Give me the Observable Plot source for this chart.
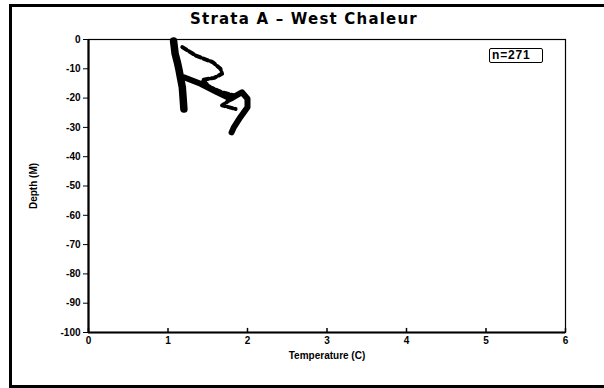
<!DOCTYPE html>
<html>
<head>
<meta charset="utf-8">
<script src="https://cdn.jsdelivr.net/npm/d3@7"></script>
<script src="https://cdn.jsdelivr.net/npm/@observablehq/plot@0.6"></script>
<style>
  html, body { margin: 0; padding: 0; background: #fff; }
  #wrap { position: relative; width: 604px; height: 388px; overflow: hidden; background: #fff; }
  #frame { position: absolute; left: 9px; top: 4px; width: 620px; height: 378px; border: 3px solid #000; box-sizing: content-box; pointer-events: none; }
  #title { position: absolute; left: 0; width: 608px; top: 10px; text-align: center; font: 600 15px "DejaVu Sans", sans-serif; color: #000; letter-spacing: 1.2px; }
  #count { position: absolute; left: 489px; top: 48px; width: 50px; height: 13px; border: 1.5px solid #000; border-radius: 2px; background: #fff; font: bold 12px "Liberation Sans", sans-serif; line-height: 13px; padding-left: 2px; letter-spacing: 0.8px; }
  #chart { position: absolute; left: 0; top: 0; }
</style>
</head>
<body>
<div id="wrap">
  <div id="chart"></div>
  <div id="frame"></div>
  <div id="title">Strata A – West Chaleur</div>
  <div id="count">n=271</div>
</div>
<script>
// Temperature / depth profiles for the West Chaleur stratum
const profile1Temp  = [1.07, 1.09, 1.12, 1.14, 1.16, 1.18, 1.19, 1.20];
const profile1Depth = [-0.5, -4.9, -8.0, -10.6, -13.5, -16.3, -20.0, -23.7];

const profile2Temp  = [1.20, 1.41, 1.62, 1.79, 1.93, 2.00, 2.00, 1.91, 1.83, 1.80];
const profile2Depth = [-12.9, -15.1, -18.0, -20.2, -18.0, -20.2, -23.1, -26.5, -29.9, -31.7];

const profile3Temp  = [1.18, 1.35, 1.56, 1.66, 1.68, 1.58, 1.43, 1.53, 1.68, 1.83, 1.77, 1.68, 1.85];
const profile3Depth = [-2.6, -5.5, -7.7, -10.0, -11.7, -13.1, -13.8, -16.3, -18.0, -19.1, -20.8, -22.5, -23.7];

const xTicks = [0, 1, 2, 3, 4, 5, 6];
const yTicks = [0, -10, -20, -30, -40, -50, -60, -70, -80, -90, -100];
const yTickLabels = ["0", "-10", "-20", "-30", "-40", "-50", "-60", "-70", "-80", "-90", "-100"];

const toRows = (t, d) => t.map((v, i) => ({temp: v, depth: d[i]}));
const p1 = toRows(profile1Temp, profile1Depth);
const p2 = toRows(profile2Temp, profile2Depth);
const p3 = toRows(profile3Temp, profile3Depth);

const chart = Plot.plot({
  width: 604,
  height: 388,
  marginLeft: 88,
  marginRight: 39,
  marginTop: 39,
  marginBottom: 56,
  style: {fontFamily: "Liberation Sans, sans-serif", fontSize: "10px", fontWeight: "bold", color: "#000", background: "transparent"},
  x: {domain: [0, 6]},
  y: {domain: [-100, 0]},
  marks: [
    // plot box: thin top and right edges
    Plot.frame({stroke: "#000", strokeWidth: 1.2}),
    Plot.axisY({
      ticks: yTicks,
      tickFormat: (d) => yTickLabels[yTicks.indexOf(d)],
      tickSize: 5,
      tickPadding: 3,
      tickStrokeWidth: 1.5,
      label: "Depth (M)",
      labelAnchor: "center",
      labelArrow: "none",
      labelOffset: 59,
      fontSize: 10
    }),
    Plot.axisX({
      ticks: xTicks,
      tickFormat: d3.format("d"),
      tickSize: 0,
      tickPadding: 4,
      label: "Temperature (C)",
      labelAnchor: "center",
      labelOffset: 26,
      labelArrow: "none",
      fontSize: 10
    }),
    // short inward x ticks
    Plot.ruleX(xTicks, {x: (d) => d, y1: -100, y2: -98.6, stroke: "#000", strokeWidth: 1.5}),
    // heavy axis lines
    Plot.ruleX([0], {stroke: "#000", strokeWidth: 2.2}),
    Plot.ruleY([-100], {stroke: "#000", strokeWidth: 2.2}),
    // profiles
    Plot.line(p1, {x: "temp", y: "depth", stroke: "#000", strokeWidth: 7.5, strokeLinecap: "round", strokeLinejoin: "round"}),
    Plot.line(p2, {x: "temp", y: "depth", stroke: "#000", strokeWidth: 6, strokeLinecap: "round", strokeLinejoin: "round"}),
    Plot.line(p3, {x: "temp", y: "depth", stroke: "#000", strokeWidth: 4, strokeDasharray: "5,3", strokeLinejoin: "round"})
  ]
});

document.getElementById("chart").appendChild(chart);
</script>
</body>
</html>
